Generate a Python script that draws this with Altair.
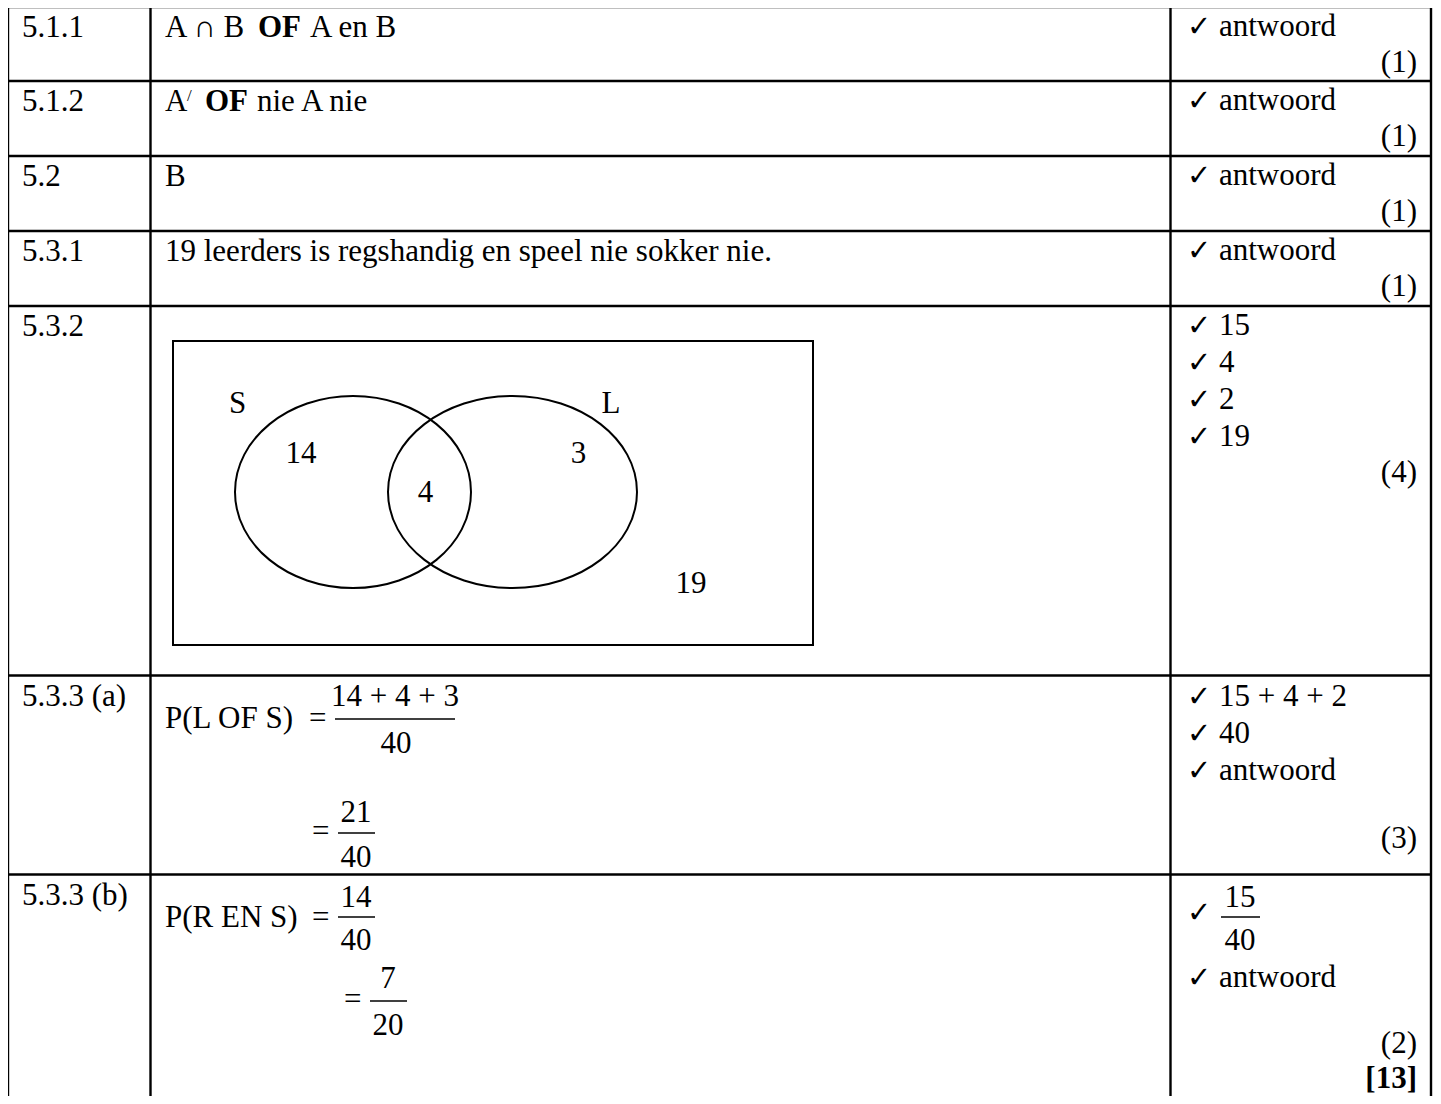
import altair as alt
import pandas as pd

# ---------------- content ----------------
question_numbers = ["5.1.1", "5.1.2", "5.2", "5.3.1", "5.3.2", "5.3.3 (a)", "5.3.3 (b)"]
mark_totals = ["(1)", "(1)", "(1)", "(1)", "(4)", "(3)", "(2)"]
grand_total = "[13]"

row1_parts = ["A ∩ B", "OF", "A en B"]          # normal, bold, normal
row2_parts = ["A", "/", "OF", "nie A nie"]       # normal, superscript, bold, normal
answer_5_2 = "B"
answer_5_3_1 = "19 leerders is regshandig en speel nie sokker nie."

venn_sets = ["S", "L"]
venn_counts = ["14", "4", "3", "19"]             # S only, S and L, L only, neither

prob_a = ["P(L OF S)", "14 + 4 + 3", "40", "21", "40"]
prob_b = ["P(R EN S)", "14", "40", "7", "20"]

checks_simple = ["antwoord", "antwoord", "antwoord", "antwoord"]
checks_532 = ["15", "4", "2", "19"]
checks_a = ["15 + 4 + 2", "40", "antwoord"]
checks_b_frac = ["15", "40"]
checks_b = ["antwoord"]

# ---------------- layout ----------------
X_LEFT, X_C1, X_C2, X_RIGHT = 8, 150.5, 1170.5, 1431
ROW_TOPS = [7, 81, 156, 231, 306, 675.5, 874.5]
Y_BOTTOM = 1104
W, H = 1425, 1088
FONT = "Liberation Serif"
FS = 31

xs = alt.Scale(domain=[8, 8 + W], nice=False, zero=False)
ys = alt.Scale(domain=[8, 8 + H], nice=False, zero=False, reverse=True)


def X(f="x"):
    return alt.X(f"{f}:Q", scale=xs, axis=None)


def Y(f="y"):
    return alt.Y(f"{f}:Q", scale=ys, axis=None)


# table grid
grid = []
for t in ROW_TOPS:
    grid.append({"x": X_LEFT, "x2": X_RIGHT, "y": t, "y2": t})
for vx in [X_LEFT, X_C1, X_C2, X_RIGHT]:
    grid.append({"x": vx, "x2": vx, "y": ROW_TOPS[0], "y2": Y_BOTTOM})
grid_df = pd.DataFrame(grid)

# text items
normal_left, bold_left, normal_right, bold_right, center, small = [], [], [], [], [], []
checks = []

for i, q in enumerate(question_numbers):
    normal_left.append({"x": 22, "y": ROW_TOPS[i] + 30, "t": q})

# rows 1-4 (middle column)
normal_left.append({"x": 165, "y": 37, "t": row1_parts[0]})
bold_left.append({"x": 258, "y": 37, "t": row1_parts[1]})
normal_left.append({"x": 310, "y": 37, "t": row1_parts[2]})
normal_left.append({"x": 165, "y": 111, "t": row2_parts[0]})
small.append({"x": 187, "y": 101, "t": row2_parts[1]})
bold_left.append({"x": 205, "y": 111, "t": row2_parts[2]})
normal_left.append({"x": 257, "y": 111, "t": row2_parts[3]})
normal_left.append({"x": 165, "y": 186, "t": answer_5_2})
normal_left.append({"x": 165, "y": 261, "t": answer_5_3_1})

# Venn labels
center.append({"x": 237.5, "y": 413, "t": venn_sets[0]})
center.append({"x": 611, "y": 413, "t": venn_sets[1]})
for (cx, cy), v in zip([(301, 463), (425.5, 502), (578.5, 463), (691, 593)], venn_counts):
    center.append({"x": cx, "y": cy, "t": v})

# 5.3.3 (a)
normal_left.append({"x": 165, "y": 728, "t": prob_a[0]})
normal_left.append({"x": 309, "y": 728, "t": "="})
center.append({"x": 395, "y": 706, "t": prob_a[1]})
center.append({"x": 396, "y": 753, "t": prob_a[2]})
normal_left.append({"x": 312, "y": 841, "t": "="})
center.append({"x": 356, "y": 822, "t": prob_a[3]})
center.append({"x": 356, "y": 867, "t": prob_a[4]})
# 5.3.3 (b)
normal_left.append({"x": 165, "y": 927, "t": prob_b[0]})
normal_left.append({"x": 312, "y": 927, "t": "="})
center.append({"x": 356, "y": 907, "t": prob_b[1]})
center.append({"x": 356, "y": 950, "t": prob_b[2]})
normal_left.append({"x": 344, "y": 1009, "t": "="})
center.append({"x": 388, "y": 988, "t": prob_b[3]})
center.append({"x": 388, "y": 1035, "t": prob_b[4]})

bars = [
    {"x": 335, "x2": 455, "y": 719},
    {"x": 338, "x2": 375, "y": 833},
    {"x": 338, "x2": 375, "y": 917},
    {"x": 370, "x2": 407, "y": 1001},
    {"x": 1221, "x2": 1260, "y": 917},
]
bars_df = pd.DataFrame(bars)

# right column (marks)
CHECK_X, TEXT_X, RIGHT_X = 1187, 1219, 1417
for i, c in enumerate(checks_simple):
    base = ROW_TOPS[i] + 29
    checks.append({"x": CHECK_X, "y": base})
    normal_left.append({"x": TEXT_X, "y": base, "t": c})
for j, c in enumerate(checks_532):
    base = 335 + 37 * j
    checks.append({"x": CHECK_X, "y": base})
    normal_left.append({"x": TEXT_X, "y": base, "t": c})
for j, c in enumerate(checks_a):
    base = 706 + 37 * j
    checks.append({"x": CHECK_X, "y": base})
    normal_left.append({"x": TEXT_X, "y": base, "t": c})
checks.append({"x": CHECK_X, "y": 922})
center.append({"x": 1240, "y": 907, "t": checks_b_frac[0]})
center.append({"x": 1240, "y": 950, "t": checks_b_frac[1]})
checks.append({"x": CHECK_X, "y": 987})
normal_left.append({"x": TEXT_X, "y": 987, "t": checks_b[0]})

mark_baselines = [72, 146, 221, 296, 482, 848, 1053]
for b, m in zip(mark_baselines, mark_totals):
    normal_right.append({"x": RIGHT_X, "y": b, "t": m})
bold_right.append({"x": RIGHT_X, "y": 1088, "t": grand_total})


def text_layer(rows, align="left", weight="normal", size=FS, font=FONT):
    return alt.Chart(pd.DataFrame(rows)).mark_text(
        align=align, baseline="alphabetic", font=font, fontSize=size,
        fontWeight=weight, color="black"
    ).encode(x=X(), y=Y(), text="t:N")


grid_layer = alt.Chart(grid_df).mark_rule(color="black", strokeWidth=2.4).encode(
    x=X(), x2="x2:Q", y=Y(), y2="y2:Q")

bar_layer = alt.Chart(bars_df).mark_rule(color="black", strokeWidth=1.4).encode(
    x=X(), x2="x2:Q", y=Y())

box_df = pd.DataFrame([{"x": 173, "x2": 813, "y": 341, "y2": 645}])
box_layer = alt.Chart(box_df).mark_rect(filled=False, stroke="black", strokeWidth=2).encode(
    x=X(), x2="x2:Q", y=Y(), y2="y2:Q")


def ellipse_path(k):
    c = 0.5523
    return (f"M-1,0 C-1,{-c*k:.4f} {-c:.4f},{-k:.4f} 0,{-k:.4f} "
            f"C{c:.4f},{-k:.4f} 1,{-c*k:.4f} 1,0 "
            f"C1,{c*k:.4f} {c:.4f},{k:.4f} 0,{k:.4f} "
            f"C{-c:.4f},{k:.4f} -1,{c*k:.4f} -1,0 Z")


def ellipse_layer(cx, cy, rx, ry):
    df = pd.DataFrame([{"x": cx, "y": cy}])
    return alt.Chart(df).mark_point(
        shape=ellipse_path(ry / rx), size=(2 * rx) ** 2, filled=False,
        stroke="black", strokeWidth=2, opacity=1
    ).encode(x=X(), y=Y())


check_layer = alt.Chart(pd.DataFrame(checks).assign(t="✓")).mark_text(
    align="left", baseline="alphabetic", font="DejaVu Sans", fontSize=29, color="black"
).encode(x=X(), y=Y(), text="t:N")

chart = alt.layer(
    grid_layer,
    box_layer,
    ellipse_layer(353, 492, 118, 96),
    ellipse_layer(512.5, 492, 124.5, 96),
    bar_layer,
    text_layer(normal_left),
    text_layer(bold_left, weight="bold"),
    text_layer(normal_right, align="right"),
    text_layer(bold_right, align="right", weight="bold"),
    text_layer(center, align="center"),
    text_layer(small, size=17),
    check_layer,
).properties(
    width=W, height=H,
    autosize=alt.AutoSizeParams(type="none"),
    padding=0,
).configure_view(strokeWidth=0)

chart.save("out.html", embed_options={"renderer": "svg", "actions": False})
